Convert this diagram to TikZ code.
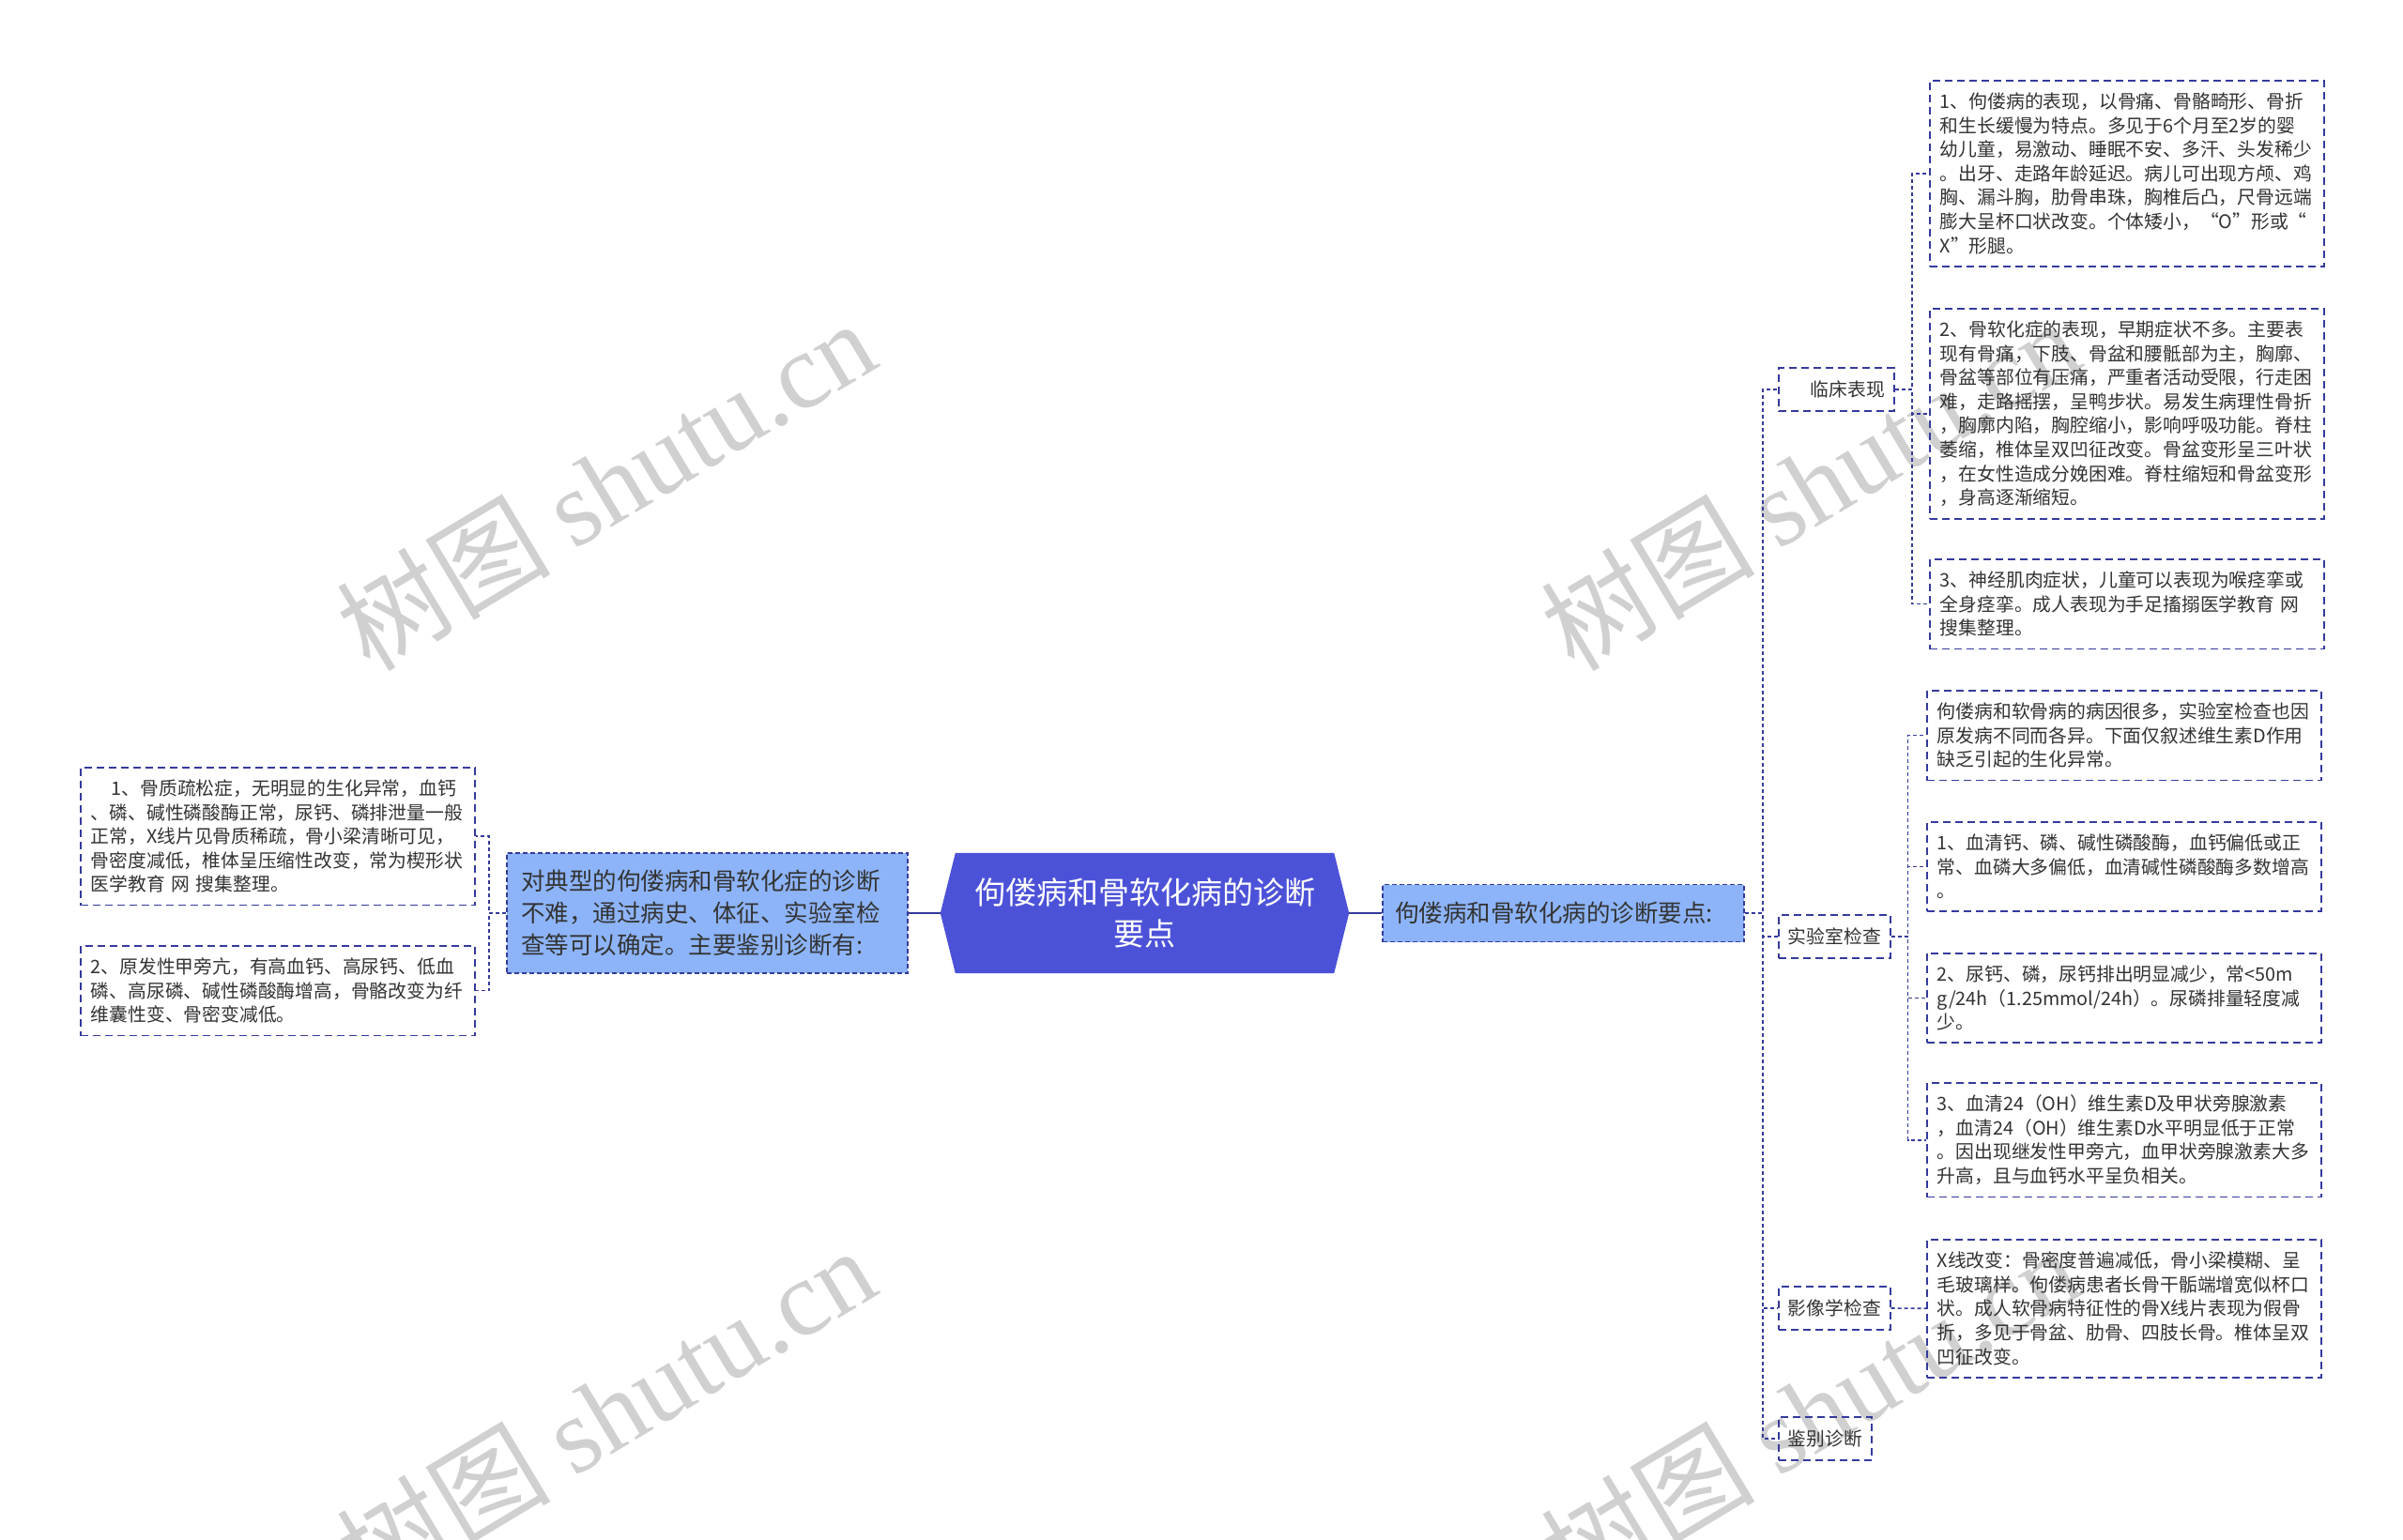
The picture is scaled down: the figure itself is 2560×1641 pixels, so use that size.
\documentclass[tikz,border=0pt]{standalone}
\usepackage{fontspec}
\setmainfont{Noto Sans CJK SC}
\newfontfamily\wmlatin{Liberation Serif}
\usetikzlibrary{calc}
\pgfdeclarelayer{bg}
\pgfsetlayers{bg,main}
\definecolor{linec}{HTML}{353A9C}
\definecolor{centerc}{HTML}{4C52D8}
\definecolor{lightc}{HTML}{8DB4F8}
\definecolor{txtc}{HTML}{333333}
\definecolor{wmc}{HTML}{D0D0D0}
\tikzset{
  leaf/.style={draw=linec, dash pattern=on 8pt off 5pt, line width=1.6pt,
    inner xsep=11pt, inner ysep=13pt, text width=398pt, align=left,
    anchor=north west, text=txtc, font=\fontsize{19.8pt}{25.6pt}\selectfont},
  lvltwo/.style={draw=linec, dash pattern=on 8pt off 5pt, line width=1.6pt,
    inner xsep=10pt, inner ysep=0pt, minimum height=46pt, anchor=west,
    text=txtc, font=\fontsize{19.8pt}{24pt}\selectfont},
  lvlone/.style={fill=lightc, draw=linec, dash pattern=on 5pt off 3pt,
    line width=1.5pt, text=txtc, align=left, inner ysep=0pt,
    font=\fontsize{25.5pt}{34pt}\selectfont},
  rootnode/.style={minimum width=435pt, minimum height=128pt, text=white,
    align=center, inner sep=0pt, font=\fontsize{33pt}{44pt}\selectfont},
  conn/.style={draw=linec, dash pattern=on 4pt off 3pt, line width=1.6pt},
  mainline/.style={draw=linec, line width=2.5pt},
  wm/.style={text=wmc, rotate=31, font=\fontsize{114pt}{120pt}\selectfont}
}
\begin{document}
\begin{tikzpicture}[x=1pt,y=-1pt]
\useasboundingbox (0,0) rectangle (2560,1641);
\begin{pgfonlayer}{bg}
\fill[white] (0,0) rectangle (2560,1641);
\node[wm] (wm1) at (645,516) {树图 {\wmlatin shutu.cn}};
\node[wm] (wm2) at (1928,516) {树图 {\wmlatin shutu.cn}};
\node[wm] (wm3) at (645,1504) {树图 {\wmlatin shutu.cn}};
\node[wm] (wm4) at (1928,1504) {树图 {\wmlatin shutu.cn}};
\end{pgfonlayer}

% root
\node[rootnode] (root) at (1219.5,973) {佝偻病和骨软化病的诊断\\要点};
\begin{pgfonlayer}{bg}
\fill[centerc] ($(root.north west)+(16,0)$) -- ($(root.north east)+(-16,0)$) -- (root.east)
  -- ($(root.south east)+(-16,0)$) -- ($(root.south west)+(16,0)$) -- (root.west) -- cycle;
\end{pgfonlayer}

% level one
\node[lvlone, text width=397pt, inner xsep=15pt, minimum height=128pt] (lmain) at (753.5,973)
  {对典型的佝偻病和骨软化症的诊断\\不难，通过病史、体征、实验室检\\查等可以确定。主要鉴别诊断有:};
\node[lvlone, text width=359pt, inner xsep=13pt, minimum height=61pt] (rmain) at (1665.5,973)
  {佝偻病和骨软化病的诊断要点:};

\draw[mainline] (root.west) -- (lmain.east);
\draw[mainline] (root.east) -- (rmain.west);

% left leaves
\node[leaf] (lb1) at (85,817) {\hspace*{22pt}1、骨质疏松症，无明显的生化异常，血钙\\、磷、碱性磷酸酶正常，尿钙、磷排泄量一般\\正常，X线片见骨质稀疏，骨小梁清晰可见，\\骨密度减低，椎体呈压缩性改变，常为楔形状\\医学教育 网 搜集整理。};
\node[leaf] (lb2) at (85,1007) {2、原发性甲旁亢，有高血钙、高尿钙、低血\\磷、高尿磷、碱性磷酸酶增高，骨骼改变为纤\\维囊性变、骨密变减低。};
\draw[conn] (lmain.west) -- ++(-18,0) |- (lb1.east);
\draw[conn] (lmain.west) -- ++(-18,0) |- (lb2.east);

% level two
\node[lvltwo] (clin) at (1894,415) {\hspace*{24pt}临床表现};
\node[lvltwo] (lab) at (1894,998) {实验室检查};
\node[lvltwo] (xray) at (1894,1394) {影像学检查};
\node[lvltwo] (diff) at (1894,1533) {鉴别诊断};
\draw[conn] (rmain.east) -- ++(19,0) |- (clin.west);
\draw[conn] (rmain.east) -- ++(19,0) |- (lab.west);
\draw[conn] (rmain.east) -- ++(19,0) |- (xray.west);
\draw[conn] (rmain.east) -- ++(19,0) |- (diff.west);

% clinical leaves
\node[leaf] (c1) at (2055,85) {1、佝偻病的表现，以骨痛、骨骼畸形、骨折\\和生长缓慢为特点。多见于6个月至2岁的婴\\幼儿童，易激动、睡眠不安、多汗、头发稀少\\。出牙、走路年龄延迟。病儿可出现方颅、鸡\\胸、漏斗胸，肋骨串珠，胸椎后凸，尺骨远端\\膨大呈杯口状改变。个体矮小，“O”形或“\\X”形腿。};
\node[leaf] (c2) at (2055,328) {2、骨软化症的表现，早期症状不多。主要表\\现有骨痛，下肢、骨盆和腰骶部为主，胸廓、\\骨盆等部位有压痛，严重者活动受限，行走困\\难，走路摇摆，呈鸭步状。易发生病理性骨折\\，胸廓内陷，胸腔缩小，影响呼吸功能。脊柱\\萎缩，椎体呈双凹征改变。骨盆变形呈三叶状\\，在女性造成分娩困难。脊柱缩短和骨盆变形\\，身高逐渐缩短。};
\node[leaf] (c3) at (2055,595) {3、神经肌肉症状，儿童可以表现为喉痉挛或\\全身痉挛。成人表现为手足搐搦医学教育 网\\搜集整理。};
\draw[conn] (clin.east) -- ++(18,0) |- (c1.west);
\draw[conn] (clin.east) -- ++(18,0) |- (c2.west);
\draw[conn] (clin.east) -- ++(18,0) |- (c3.west);

% lab leaves
\node[leaf] (li) at (2052,735) {佝偻病和软骨病的病因很多，实验室检查也因\\原发病不同而各异。下面仅叙述维生素D作用\\缺乏引起的生化异常。};
\node[leaf] (la1) at (2052,875) {1、血清钙、磷、碱性磷酸酶，血钙偏低或正\\常、血磷大多偏低，血清碱性磷酸酶多数增高\\。};
\node[leaf] (la2) at (2052,1015) {2、尿钙、磷，尿钙排出明显减少，常<50m\\g/24h（1.25mmol/24h）。尿磷排量轻度减\\少。};
\node[leaf] (la3) at (2052,1153) {3、血清24（OH）维生素D及甲状旁腺激素\\，血清24（OH）维生素D水平明显低于正常\\。因出现继发性甲旁亢，血甲状旁腺激素大多\\升高，且与血钙水平呈负相关。};
\draw[conn] (lab.east) -- ++(18,0) |- (li.west);
\draw[conn] (lab.east) -- ++(18,0) |- (la1.west);
\draw[conn] (lab.east) -- ++(18,0) |- (la2.west);
\draw[conn] (lab.east) -- ++(18,0) |- (la3.west);

% xray leaf
\node[leaf] (xr) at (2052,1320) {X线改变：骨密度普遍减低，骨小梁模糊、呈\\毛玻璃样。佝偻病患者长骨干骺端增宽似杯口\\状。成人软骨病特征性的骨X线片表现为假骨\\折，多见于骨盆、肋骨、四肢长骨。椎体呈双\\凹征改变。};
\draw[conn] (xray.east) -- (xr.west);
\end{tikzpicture}
\end{document}
